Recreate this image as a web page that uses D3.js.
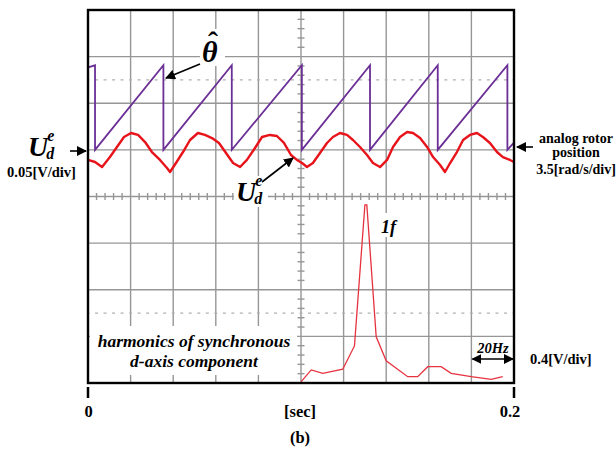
<!DOCTYPE html>
<html>
<head>
	<meta charset="utf-8">
	<title>Synchronous d-axis component</title>
	<script src="https://cdn.jsdelivr.net/npm/d3@7"></script>
	<style>
		body {
			margin: 0;
			background: #fff;
		}
		text {
			font-family: "Liberation Serif", "Times New Roman", serif;
			font-weight: bold;
		}
	</style>
</head>

<body>

	<div id="chart"></div>

	<script>

		// U_d^e trace (time in s, value in mV, 50 mV/div)
		const udTime = [0, 0.0033, 0.0066, 0.0103, 0.0136, 0.0169, 0.0202, 0.0235, 0.0268, 0.0300,
			0.0338, 0.0371, 0.0385, 0.0413, 0.0446, 0.0479, 0.0516, 0.0549, 0.0582, 0.0615,
			0.0648, 0.0681, 0.0714, 0.0746, 0.0784, 0.0817, 0.0854, 0.0887, 0.0920, 0.0953,
			0.0981, 0.1005, 0.1028, 0.1056, 0.1089, 0.1122, 0.1150, 0.1183, 0.1216, 0.1244,
			0.1277, 0.1310, 0.1338, 0.1371, 0.1404, 0.1432, 0.1465, 0.1498, 0.1526, 0.1559,
			0.1592, 0.1620, 0.1653, 0.1676, 0.1700, 0.1732, 0.1761, 0.1793, 0.1826, 0.1854,
			0.1887, 0.1920, 0.1948, 0.1981, 0.2000];
		const udValue = [-10.8, -13.0, -18.4, -7.7, 3.1, 13.8, 18.1, 16.0, 8.4, -2.3,
			-10.8, -19.4, -23.7, -14.1, -2.3, 10.6, 18.1, 16.0, 12.7, 7.4,
			-3.4, -14.1, -18.4, -10.8, 2.0, 13.8, 16.0, 14.9, 7.4, -5.5,
			-10.8, -14.1, -18.4, -14.1, -3.4, 7.4, 13.8, 18.1, 16.0, 10.6,
			3.1, -5.5, -14.1, -18.4, -10.8, 3.1, 13.8, 19.2, 18.1, 12.7,
			3.1, -7.7, -16.2, -23.7, -14.1, -2.3, 10.6, 16.0, 18.1, 13.8,
			7.4, -2.3, -7.7, -10.8, -13.0];

		// estimated rotor position (time in s, rad, 3.5 rad/div)
		const thetaTime = [0, 0.0033, 0.0033, 0.0354, 0.0354, 0.0675, 0.0675, 0.1004, 0.1004,
			0.1324, 0.1324, 0.1642, 0.1642, 0.1969, 0.1969, 0.2000];
		const thetaValue = [6.2, 6.35, 0, 6.35, 0, 6.35, 0, 6.35, 0,
			6.35, 0, 6.35, 0, 6.35, 0, 0.55];

		// harmonic spectrum (Hz, V, 20 Hz/div and 0.4 V/div)
		const specFreq = [0, 4.8, 10.2, 19.6, 25.1, 30.0, 30.9, 35.3, 40.0, 50.1,
			54.8, 59.5, 65.8, 70.5, 79.9, 89.3, 94.7];
		const specAmp = [0.01, 0.112, 0.083, 0.118, 0.318, 1.528, 1.528, 0.397, 0.191, 0.054,
			0.054, 0.140, 0.140, 0.083, 0.054, 0.032, 0.054];

		const timeTicks = [0, 0.2];

		const width  = 616;
		const height = 450;
		const x0 = 88, x1 = 514, y0 = 10, y1 = 383;
		const xDivs = 10, yDivs = 8;

		const xTime  = d3.scaleLinear([0, 0.2], [x0, x1]);
		const xDiv   = d3.scaleLinear([0, xDivs], [x0, x1]);
		const yDiv   = d3.scaleLinear([0, yDivs], [y1, y0]);
		const yUd    = d3.scaleLinear([-250, 150], [y1, y0]);   // ground at div 5
		const yTheta = d3.scaleLinear([-17.5, 10.5], [y1, y0]);
		const xFreq  = d3.scaleLinear([0, 100], [xDiv(5), x1]);
		const yAmp   = d3.scaleLinear([0, 3.2], [y1, y0]);

		const svg = d3.select("#chart")
			.append("svg")
			.attr("width", width)
			.attr("height", height)
			.attr("viewBox", [0, 0, width, height]);

		svg.append("defs").append("marker")
			.attr("id", "head")
			.attr("viewBox", "0 0 10 10")
			.attr("refX", 9).attr("refY", 5)
			.attr("markerWidth", 10).attr("markerHeight", 10)
			.attr("markerUnits", "userSpaceOnUse")
			.attr("orient", "auto-start-reverse")
			.append("path")
			.attr("d", "M0,0L10,5L0,10z")
			.attr("fill", "#000");

		svg.append("rect")
			.attr("x", x0).attr("y", y0)
			.attr("width", x1 - x0).attr("height", y1 - y0)
			.attr("fill", "#fff");

		// graticule
		const grid = svg.append("g")
			.attr("stroke", "#969696")
			.attr("stroke-width", 1.4);

		grid.selectAll("line.v")
			.data(d3.range(1, xDivs))
			.join("line")
			.attr("class", "v")
			.attr("x1", d => xDiv(d)).attr("x2", d => xDiv(d))
			.attr("y1", y0).attr("y2", y1);

		grid.selectAll("line.h")
			.data(d3.range(1, yDivs))
			.join("line")
			.attr("class", "h")
			.attr("x1", x0).attr("x2", x1)
			.attr("y1", d => yDiv(d)).attr("y2", d => yDiv(d));

		const minorX = d3.range(1, xDivs * 5).filter(i => i % 5).map(i => i / 5);
		const minorY = d3.range(1, yDivs * 5).filter(i => i % 5).map(i => i / 5);

		grid.selectAll("line.mx")
			.data(minorX)
			.join("line")
			.attr("class", "mx")
			.attr("x1", d => xDiv(d)).attr("x2", d => xDiv(d))
			.attr("y1", yDiv(4) - 3.5).attr("y2", yDiv(4) + 3.5);

		grid.selectAll("line.my")
			.data(minorY)
			.join("line")
			.attr("class", "my")
			.attr("x1", xDiv(5) - 3.5).attr("x2", xDiv(5) + 3.5)
			.attr("y1", d => yDiv(d)).attr("y2", d => yDiv(d));

		const minorStep = xDiv(0.2) - x0;
		grid.selectAll("line.dot")
			.data([6.5, 1.5])
			.join("line")
			.attr("class", "dot")
			.attr("stroke", "#b0b0b0")
			.attr("stroke-width", 1.2)
			.attr("stroke-dasharray", `3 ${minorStep - 3}`)
			.attr("stroke-dashoffset", -(minorStep - 1.5))
			.attr("x1", x0).attr("x2", x1)
			.attr("y1", d => yDiv(d)).attr("y2", d => yDiv(d));

		// white patches behind labels inside the screen
		const patches = [[90, 326, 207, 49], [234, 176, 34, 31], [200, 29, 25, 37], [380, 213, 20, 24]];
		svg.append("g")
			.attr("fill", "#fff")
			.selectAll("rect")
			.data(patches)
			.join("rect")
			.attr("x", d => d[0]).attr("y", d => d[1])
			.attr("width", d => d[2]).attr("height", d => d[3]);

		// traces
		svg.append("path")
			.datum(d3.range(udTime.length))
			.attr("fill", "none")
			.attr("stroke", "#e8141c")
			.attr("stroke-width", 2.4)
			.attr("stroke-linejoin", "round")
			.attr("d", d3.line(i => xTime(udTime[i]), i => yUd(udValue[i])));

		svg.append("path")
			.datum(d3.range(thetaTime.length))
			.attr("fill", "none")
			.attr("stroke", "#6b2f96")
			.attr("stroke-width", 1.8)
			.attr("d", d3.line(i => xTime(thetaTime[i]), i => yTheta(thetaValue[i])));

		svg.append("path")
			.datum(d3.range(specFreq.length))
			.attr("fill", "none")
			.attr("stroke", "#e6323e")
			.attr("stroke-width", 1.3)
			.attr("d", d3.line(i => xFreq(specFreq[i]), i => yAmp(specAmp[i])));

		// frame
		svg.append("rect")
			.attr("x", x0).attr("y", y0)
			.attr("width", x1 - x0).attr("height", y1 - y0)
			.attr("fill", "none")
			.attr("stroke", "#000")
			.attr("stroke-width", 2.4);

		// time axis below the screen
		svg.append("g")
			.selectAll("line")
			.data(timeTicks)
			.join("line")
			.attr("x1", d => xTime(d)).attr("x2", d => xTime(d))
			.attr("y1", 387).attr("y2", 398)
			.attr("stroke", "#000")
			.attr("stroke-width", 2.5);

		svg.append("g")
			.attr("font-size", 16.5)
			.attr("text-anchor", "middle")
			.selectAll("text")
			.data(timeTicks)
			.join("text")
			.attr("x", d => xTime(d) + (d ? -4 : 0.5))
			.attr("y", 417)
			.text(d => d === 0 ? "0" : d3.format(".1f")(d));

		svg.append("text").attr("x", 300).attr("y", 417).attr("font-size", 16.5)
			.attr("text-anchor", "middle").text("[sec]");
		svg.append("text").attr("x", 300).attr("y", 443).attr("font-size", 16.5)
			.attr("text-anchor", "middle").text("(b)");

		// arrows
		const arrows = [[70, 151, 86, 151], [200, 64, 166, 78], [262, 182, 293, 158], [533, 147, 517, 147]];
		svg.append("g")
			.attr("stroke", "#000")
			.attr("stroke-width", 1.6)
			.selectAll("line")
			.data(arrows)
			.join("line")
			.attr("x1", d => d[0]).attr("y1", d => d[1])
			.attr("x2", d => d[2]).attr("y2", d => d[3])
			.attr("marker-end", "url(#head)");

		svg.append("line")
			.attr("x1", xDiv(9) + 1).attr("x2", x1 - 1)
			.attr("y1", 359).attr("y2", 359)
			.attr("stroke", "#000").attr("stroke-width", 1.4)
			.attr("marker-start", "url(#head)")
			.attr("marker-end", "url(#head)");

		// labels
		function ude(x, y) {
			const t = svg.append("text")
				.attr("x", x).attr("y", y)
				.attr("font-style", "italic")
				.attr("font-size", 28);
			t.append("tspan").text("U");
			t.append("tspan").attr("font-size", 16).attr("dx", -1).attr("dy", -15).text("e");
			t.append("tspan").attr("font-size", 16).attr("dx", -8).attr("dy", 18).text("d");
		}
		ude(28, 156);
		ude(236, 201);

		svg.append("text").attr("x", 7).attr("y", 177).attr("font-size", 14.5).text("0.05[V/div]");

		svg.append("text").attr("x", 202).attr("y", 62)
			.attr("font-size", 30).attr("font-style", "italic").attr("font-weight", "normal")
			.text("\u03B8");
		svg.append("text").attr("x", 213).attr("y", 52)
			.attr("font-size", 30).attr("font-weight", "normal")
			.attr("text-anchor", "middle")
			.text("\u02C6");

		svg.append("g")
			.attr("font-size", 14)
			.attr("text-anchor", "middle")
			.selectAll("text")
			.data(["analog rotor", "position", "3.5[rad/s/div]"])
			.join("text")
			.attr("x", 576)
			.attr("y", (d, i) => [143, 157, 174][i])
			.text(d => d);

		svg.append("text").attr("x", 381).attr("y", 233)
			.attr("font-size", 18).attr("font-style", "italic").text("1f");

		svg.append("text").attr("x", 493).attr("y", 353)
			.attr("font-size", 14.5).attr("font-style", "italic")
			.attr("text-anchor", "middle").text("20Hz");

		svg.append("text").attr("x", 530).attr("y", 364).attr("font-size", 14.5).text("0.4[V/div]");

		svg.append("g")
			.attr("font-size", 17.5)
			.attr("font-style", "italic")
			.attr("text-anchor", "middle")
			.selectAll("text")
			.data(["harmonics of synchronous", "d-axis component"])
			.join("text")
			.attr("x", 194)
			.attr("y", (d, i) => 347 + i * 20)
			.text(d => d);

	</script>

</body>

</html>
